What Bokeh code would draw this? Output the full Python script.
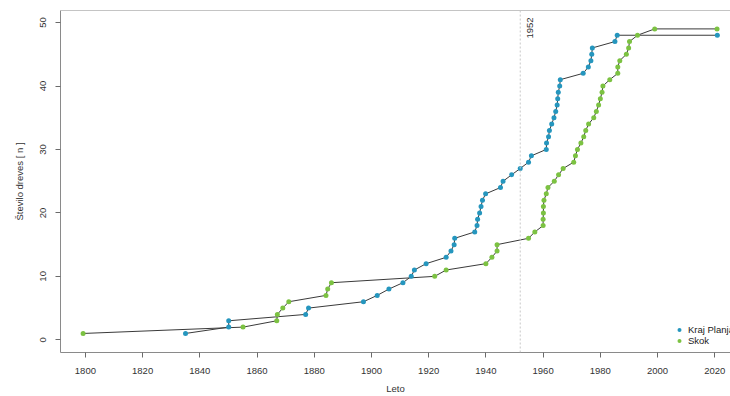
import math
from bokeh.plotting import figure
from bokeh.models import Range1d, Span, Label, Legend, LegendItem, FixedTicker
from bokeh.embed import file_html
from bokeh.resources import INLINE

# ---- data ----
kraj_years = [1835.0, 1850.1, 1850.1, 1877.0, 1878.0, 1897.2, 1902.0, 1906.1, 1911.0, 1913.9,
              1915.0, 1919.1, 1926.1, 1927.8, 1928.9, 1929.1, 1936.1, 1936.9, 1937.1, 1937.8,
              1938.3, 1938.8, 1939.9, 1945.1, 1946.0, 1949.0, 1952.0, 1954.9, 1955.9, 1961.1,
              1961.2, 1961.9, 1962.2, 1963.0, 1963.8, 1964.4, 1964.9, 1965.1, 1965.3, 1965.8,
              1966.0, 1974.0, 1975.8, 1976.7, 1977.0, 1977.2, 1985.1, 1985.9, 2020.9]
kraj_n = list(range(1, 49)) + [48]

skok_years = [1799.2, 1855.1, 1866.9, 1867.1, 1869.0, 1871.1, 1884.1, 1884.7, 1886.0, 1922.1,
              1926.1, 1940.0, 1942.1, 1943.9, 1943.9, 1954.9, 1957.1, 1960.0, 1960.0, 1960.1,
              1960.1, 1960.3, 1961.1, 1961.7, 1963.9, 1965.4, 1967.0, 1970.7, 1971.3, 1972.0,
              1973.2, 1974.2, 1974.9, 1975.9, 1977.7, 1978.6, 1979.4, 1980.0, 1980.6, 1980.9,
              1983.3, 1986.1, 1986.1, 1986.8, 1989.1, 1989.9, 1990.2, 1993.0, 1999.0, 2020.8]
skok_n = list(range(1, 50)) + [49]

x_ticks = [1800, 1820, 1840, 1860, 1880, 1900, 1920, 1940, 1960, 1980, 2000, 2020]
y_ticks = [0, 10, 20, 30, 40, 50]
marker_year = 1952
series_names = ["Kraj Planja", "Skok"]

BLUE = "#2596be"
GREEN = "#7cc242"
FONT = "Liberation Sans"
FS = "9.5px"

p = figure(width=730, height=396, output_backend="svg", toolbar_location=None,
           x_range=Range1d(1791.3, 2025.5), y_range=Range1d(-2.0, 51.9),
           min_border_left=60, min_border_right=0, min_border_top=10, min_border_bottom=44)
p.outline_line_color = None
p.xgrid.visible = False
p.ygrid.visible = False
p.background_fill_color = "white"

for ax in (p.xaxis[0], p.yaxis[0]):
    ax.axis_line_color = "#8a8a8a"
    ax.major_tick_line_color = "#6a6a6a"
    ax.minor_tick_line_color = None
    ax.major_tick_out = 5
    ax.major_tick_in = 0
    ax.major_label_text_font = FONT
    ax.major_label_text_font_size = FS
    ax.major_label_text_color = "#333333"
    ax.axis_label_text_font = FONT
    ax.axis_label_text_font_size = FS
    ax.axis_label_text_font_style = "normal"
    ax.axis_label_text_color = "#333333"

p.xaxis.ticker = FixedTicker(ticks=x_ticks)
p.yaxis.ticker = FixedTicker(ticks=y_ticks)
p.yaxis.major_label_orientation = "vertical"
p.xaxis.axis_label = "Leto"
p.yaxis.axis_label = "Število dreves [ n ]"
p.xaxis.major_label_standoff = 10
p.xaxis.axis_label_standoff = 6
p.yaxis.major_label_standoff = 9
p.yaxis.axis_label_standoff = 13

# top border of the box
p.add_layout(Span(location=51.9, dimension="width", line_color="#8a8a8a", line_width=1))

# 1952 reference line
p.add_layout(Span(location=marker_year, dimension="height", line_color="#c8c8c8",
                  line_width=1, line_dash="2 2"))
p.add_layout(Label(x=marker_year, y=50.8, x_offset=7, text=str(marker_year), angle=math.pi / 2,
                   text_align="right", text_baseline="top", text_font=FONT,
                   text_font_size=FS, text_color="#333333"))

p.line(kraj_years, kraj_n, line_color="#3a3a3a", line_width=1)
p.line(skok_years, skok_n, line_color="#3a3a3a", line_width=1)
r1 = p.scatter(kraj_years, kraj_n, size=5, fill_color=BLUE, line_color=None)
r2 = p.scatter(skok_years, skok_n, size=5, fill_color=GREEN, line_color=None)

legend = Legend(items=[LegendItem(label=series_names[0], renderers=[r1]),
                       LegendItem(label=series_names[1], renderers=[r2])],
                location=(614, 6), background_fill_alpha=0, border_line_color=None,
                padding=0, spacing=0, glyph_width=10, glyph_height=11, label_standoff=4,
                label_text_font=FONT, label_text_font_size=FS, label_text_color="#222222",
                margin=0, label_height=11)
p.add_layout(legend)

open("out.html", "w").write(file_html(p, INLINE))
